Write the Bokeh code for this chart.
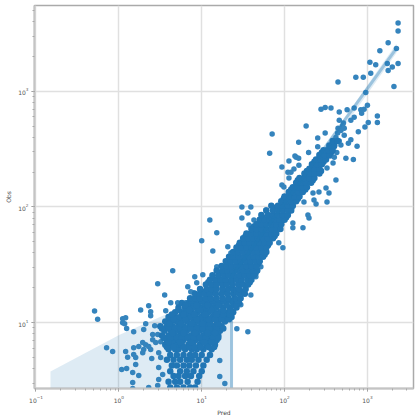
from bokeh.plotting import figure
from bokeh.embed import file_html
from bokeh.resources import INLINE

# All values are log10(Pred), log10(Obs).
top_points = [(3.37,3.59),(3.37,3.52),(3.25,3.42),(3.15,3.35),(3.35,3.37),(3.03,3.25),(3.10,3.23),(3.37,3.24),(3.30,3.21),(3.24,3.24),
(3.25,3.18),(3.04,3.155),(2.645,3.08),(2.86,3.12),(2.95,3.12),(3.32,3.04),(2.98,2.99),(2.44,2.845),(2.49,2.86),(2.56,2.855),
(2.66,2.82),(2.755,2.84),(2.84,2.855),(2.92,2.84),(3.0,2.88),(2.96,2.845),(2.93,2.81),(3.12,2.785),(3.12,2.73),(3.01,2.73),
(2.97,2.69),(2.84,2.775),(2.80,2.75),(2.66,2.75),(2.71,2.725),(2.26,2.70),(2.645,2.68),(2.72,2.68),(2.89,2.65),(2.49,2.64),
(1.85,2.63),(2.40,2.595),(2.17,2.56),(2.80,2.58),(2.77,2.55),(2.875,2.525),(2.40,2.52),(2.29,2.47),(1.82,2.465),(2.63,2.47),
(2.68,2.535),(2.14,2.43),(2.17,2.42),(2.74,2.42),(2.83,2.41),(2.68,2.66),(2.72,2.62),(2.62,2.6),(2.66,2.57),(2.58,2.53),(2.52,2.5),
(2.56,2.47),(2.6,2.52),(2.55,2.44),(2.6,2.43),(2.64,2.64),(2.7,2.7)]

mid_points = [(2.125,2.44),(2.053,2.397),(1.968,2.345),(2.173,2.36),(2.113,2.328),(2.04,2.30),(2.077,2.30),(2.053,2.25),(1.968,2.19),(1.992,2.172),
(2.282,1.93),(2.295,1.905),(2.10,1.862),(2.222,1.82),(2.5,2.164),(2.536,2.12),(2.512,2.043),(2.355,2.06),(2.38,2.026),(2.415,2.13),
(2.343,2.12),(2.234,2.043),(2.62,2.233),(2.512,2.336),(2.585,2.38),(1.593,2.0),(1.557,1.948),(1.63,1.888),(1.57,1.845),(1.678,1.828),
(1.775,1.974),(1.485,2.0),(1.485,1.905),(2.1,1.82),(1.93,1.69),(1.98,1.647),(1.714,1.483),(1.654,1.397),(1.593,1.24),(1.472,1.155),
(1.098,1.888),(1.182,1.776),(1.0,1.707),(1.134,1.62),(1.315,1.655),(1.352,1.603),(1.182,1.483),(0.65,1.448),(0.916,1.397),(1.013,1.414),
(0.94,1.345),(0.832,1.31),(0.904,1.259)]

low_points = [(-0.293,1.10),(-0.256,1.03),(0.36,1.147),(0.263,1.11),(0.384,1.095),(0.384,1.06),(0.046,1.034),(0.082,1.043),(0.046,1.0),(0.07,0.99),
(0.094,0.95),(0.179,0.922),(0.30,0.94),(0.324,0.99),(0.433,0.974),(0.566,1.103),(-0.148,0.784),(-0.075,0.75),(0.082,0.75),(0.106,0.70),
(0.034,0.595),(0.094,0.603),(0.167,0.57),(0.24,0.543),(0.167,0.483),(0.179,0.784),(0.179,0.724),(0.203,0.698),(0.203,0.638),(0.288,0.828),
(0.24,0.793),(0.324,0.81),(0.36,0.793),(0.30,0.767),(0.384,0.767),(0.288,0.741),(0.408,0.897),(0.469,0.897),(0.505,0.836),(0.408,0.853),
(0.445,0.828),(0.481,0.741),(0.397,0.69),(0.505,0.698),(0.481,0.612),(0.529,0.552),(0.481,0.509),(0.469,0.457),(0.36,0.44),(0.167,0.43),
(0.469,1.336),(0.553,1.24),(0.626,1.172),(0.71,1.172),(0.807,1.172),(0.868,1.267),(0.65,1.07),(1.424,0.948),(1.557,0.922),(1.218,0.672),
(1.218,0.534),(1.279,0.474)]

# dense cloud, row by row: log10(Obs), then the log10(Pred) values on that row
cloud_low = [
(0.44,[0.62,0.70,0.78,0.86,0.92]),
(0.49,[0.60,0.68,0.74,0.83,0.95]),
(0.54,[0.66,0.72,0.80,0.87,0.97]),
(0.58,[0.62,0.74,0.82,0.90,1.0]),
(0.63,[0.64,0.70,0.78,0.85,0.93,1.02]),
(0.68,[0.58,0.66,0.74,0.82,0.88,0.96,1.06]),
(0.72,[0.62,0.70,0.78,0.86,0.92,1.0,1.1]),
(0.77,[0.60,0.68,0.72,0.80,0.88,0.94,1.02,1.12]),
(0.81,[0.56,0.64,0.70,0.76,0.84,0.90,0.98,1.06,1.16]),
(0.85,[0.58,0.66,0.72,0.78,0.86,0.93,1.0,1.08,1.18]),
(0.89,[0.52,0.60,0.67,0.74,0.80,0.87,0.95,1.02,1.1,1.2]),
(0.93,[0.55,0.63,0.70,0.76,0.82,0.9,0.97,1.04,1.12,1.22]),
(0.97,[0.5,0.58,0.65,0.72,0.78,0.85,0.92,0.99,1.06,1.14,1.24]),
(1.01,[0.56,0.63,0.7,0.76,0.83,0.9,0.96,1.03,1.1,1.18,1.28]),
(1.05,[0.6,0.68,0.74,0.8,0.87,0.93,1.0,1.06,1.13,1.2,1.3,1.36]),
(1.09,[0.68,0.76,0.82,0.88,0.95,1.02,1.08,1.15,1.22,1.32,1.38]),
(1.13,[0.72,0.8,0.86,0.92,0.99,1.05,1.12,1.18,1.26,1.34,1.42]),
(1.17,[0.76,0.84,0.9,0.96,1.03,1.09,1.16,1.22,1.3,1.38,1.45]),
]
cloud_gaps = [
(0.83,[0.6,0.74,0.87,1.03,1.12]),
(0.91,[0.65,0.78,0.92,1.07,1.16]),
(0.99,[0.61,0.75,0.88,1.01,1.1,1.2]),
(1.03,[0.66,0.8,0.94,1.08,1.16,1.24,1.33]),
(1.07,[0.64,0.78,0.91,1.04,1.18,1.26,1.34]),
(1.11,[0.72,0.85,0.98,1.12,1.26,1.35]),
(1.15,[0.8,0.94,1.07,1.2,1.3,1.4]),
(1.19,[0.88,1.0,1.13,1.26,1.36,1.43]),
(1.27,[1.0,1.15,1.28,1.42,1.5]),
(1.35,[1.08,1.21,1.34,1.47,1.58]),
(1.43,[1.22,1.35,1.48,1.6,1.65]),
(1.51,[1.33,1.45,1.57,1.68]),
(1.59,[1.41,1.53,1.65,1.76]),
(1.67,[1.45,1.57,1.69,1.8]),
(1.75,[1.53,1.65,1.77,1.88]),
(1.83,[1.63,1.75,1.87,1.93]),
(1.91,[1.73,1.85,1.97,2.02]),
(1.99,[1.88,1.95,2.01,2.08]),
(2.07,[1.99,2.05,2.11,2.16]),
(2.15,[2.08,2.14,2.2,2.25]),
(2.23,[2.16,2.22,2.28,2.34]),
(2.31,[2.27,2.33,2.39,2.44]),
(2.39,[2.36,2.42,2.47]),
(2.47,[2.45,2.51,2.56]),
]
cloud_lower_fill = [
(0.79,[0.58,0.66,0.78,0.85,0.91,0.99,1.08,1.15]),
(0.87,[0.54,0.63,0.7,0.76,0.83,0.9,0.98,1.05,1.14,1.2]),
(0.95,[0.52,0.6,0.68,0.74,0.8,0.87,0.94,1.01,1.09,1.18,1.26]),
]
cloud_mid = [
(1.21,[0.86,0.92,0.98,1.05,1.11,1.18,1.25,1.32,1.4,1.47]),
(1.25,[0.92,0.98,1.04,1.1,1.17,1.24,1.31,1.38,1.45,1.52]),
(1.29,[0.98,1.06,1.12,1.18,1.25,1.32,1.38,1.45,1.53]),
(1.33,[1.05,1.12,1.18,1.25,1.3,1.37,1.44,1.5,1.56]),
(1.37,[1.1,1.17,1.23,1.29,1.36,1.42,1.48,1.55,1.6]),
(1.41,[1.13,1.2,1.27,1.33,1.39,1.46,1.52,1.58,1.63]),
(1.45,[1.18,1.25,1.31,1.37,1.43,1.5,1.56,1.62,1.67]),
(1.49,[1.24,1.3,1.36,1.42,1.48,1.54,1.6,1.66]),
(1.53,[1.29,1.35,1.41,1.47,1.53,1.59,1.65,1.7]),
(1.57,[1.33,1.39,1.45,1.51,1.57,1.63,1.69,1.74]),
(1.61,[1.38,1.44,1.5,1.56,1.62,1.68,1.74,1.78]),
(1.65,[1.42,1.48,1.54,1.6,1.66,1.72,1.78]),
(1.69,[1.46,1.52,1.58,1.64,1.7,1.76,1.82]),
(1.73,[1.5,1.56,1.62,1.68,1.74,1.8,1.86]),
(1.77,[1.54,1.6,1.66,1.72,1.78,1.84,1.9]),
(1.81,[1.6,1.66,1.72,1.78,1.84,1.9,1.95]),
]
cloud_high = [
(1.85,[1.66,1.72,1.78,1.84,1.9,1.96]),
(1.89,[1.7,1.76,1.82,1.88,1.94,2.0]),
(1.93,[1.72,1.8,1.86,1.92,1.98,2.04]),
(1.97,[1.78,1.86,1.92,1.98,2.04,2.08]),
(2.01,[1.84,1.92,1.98,2.04,2.1]),
(2.05,[1.96,2.02,2.08,2.14]),
(2.09,[2.0,2.06,2.12,2.18]),
(2.13,[2.05,2.11,2.17,2.22]),
(2.17,[2.1,2.16,2.22,2.27]),
(2.21,[2.14,2.2,2.26,2.32]),
(2.25,[2.18,2.24,2.3,2.36]),
(2.29,[2.24,2.3,2.36,2.42]),
(2.33,[2.3,2.36,2.42]),
(2.37,[2.33,2.39,2.45]),
(2.41,[2.38,2.44,2.5]),
(2.45,[2.42,2.48,2.54]),
(2.49,[2.47,2.53,2.58]),
(2.53,[2.54,2.6]),
(2.57,[2.58,2.64]),
]

# regression band and line, log10 values
band_pred = [-0.825,0.01,0.566,1.376,2.0,3.35,3.35,2.0,1.376,1.376,-0.825]
band_obs  = [0.578,0.896,1.07,1.43,2.03,3.41,3.33,1.97,1.36,0.3,0.3]
line_pred = [1.36,1.36,3.35]
line_obs  = [0.3,1.40,3.37]

sparse = list(top_points) + list(mid_points) + list(low_points)
sparse_pred = [10**a for a, b in sparse]
sparse_obs = [10**b for a, b in sparse]
cloud = []
for rows in (cloud_low, cloud_lower_fill, cloud_gaps, cloud_mid, cloud_high):
    for ly, lxs in rows:
        cloud += [(lx, ly) for lx in lxs]
cloud_pred = [10**a for a, b in cloud]
cloud_obs = [10**b for a, b in cloud]

p = figure(width=417, height=418, x_axis_type="log", y_axis_type="log",
           x_range=(10**-1.018, 10**3.556), y_range=(10**0.431, 10**3.741),
           output_backend="svg", toolbar_location=None,
           min_border_left=34, min_border_right=4, min_border_top=5, min_border_bottom=29,
           x_axis_label="Pred", y_axis_label="Obs")

p.patch([10**v for v in band_pred], [10**v for v in band_obs], fill_color="#1f77b4", fill_alpha=0.15, line_color=None)
p.scatter(sparse_pred, sparse_obs, size=5.5, marker="circle", fill_color="#3584bd", line_color=None)
p.scatter(cloud_pred, cloud_obs, size=6.5, marker="circle", fill_color="#2176b5", line_color=None)
p.line([10**v for v in line_pred], [10**v for v in line_obs], line_color="#1f77b4", line_alpha=0.35, line_width=3)

for ax in (p.xaxis[0], p.yaxis[0]):
    ax.axis_label_text_font = "DejaVu Sans"
    ax.axis_label_text_font_style = "normal"
    ax.axis_label_text_font_size = "6px"
    ax.axis_label_text_color = "#444444"
    ax.axis_label_standoff = 3
    ax.major_label_text_font = "DejaVu Sans"
    ax.major_label_text_font_size = "6px"
    ax.major_label_text_color = "#555555"
    ax.major_label_standoff = 3
    ax.axis_line_color = "#c4c4c4"
    ax.axis_line_width = 2
    ax.major_tick_line_color = "#888888"
    ax.minor_tick_line_color = "#aaaaaa"
    ax.major_tick_in = 0
    ax.major_tick_out = 3
    ax.minor_tick_in = 0
    ax.minor_tick_out = 2
p.xaxis[0].ticker.num_minor_ticks = 10
p.yaxis[0].ticker.num_minor_ticks = 10

p.grid.grid_line_color = "#e0e0e0"
p.grid.grid_line_width = 1.5
p.outline_line_color = "#aaaaaa"
p.outline_line_width = 1.5

open("out.html", "w").write(file_html(p, INLINE))
